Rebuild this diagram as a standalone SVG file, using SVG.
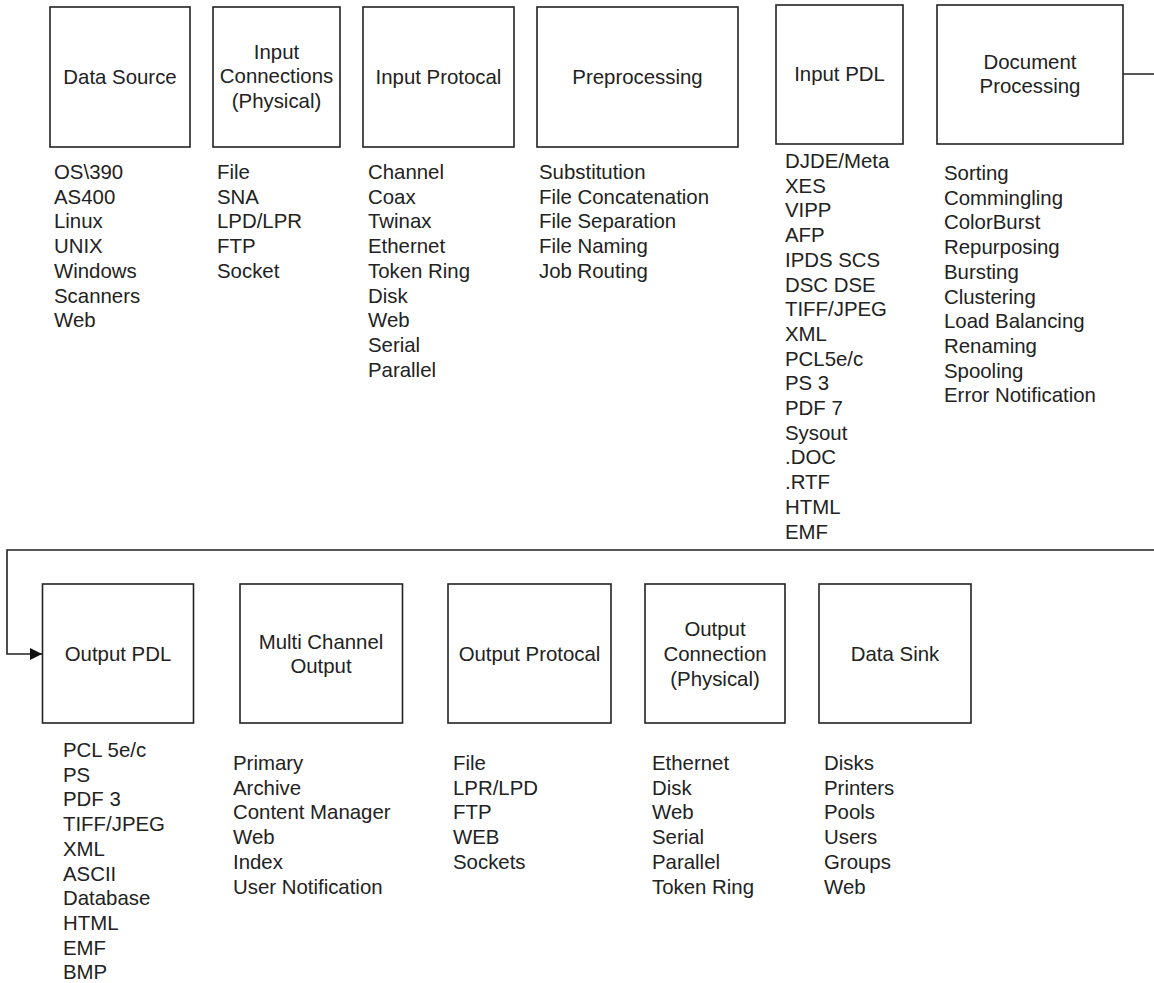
<svg xmlns="http://www.w3.org/2000/svg" width="1154" height="983" viewBox="0 0 1154 983">
<defs>
<style>
.box{fill:#fff;stroke:#222;stroke-width:1.6}
.t{font-family:"Liberation Sans",Arial,sans-serif;font-size:20.4px;fill:#222}
.c{text-anchor:middle}
.ln{fill:none;stroke:#222;stroke-width:1.6}
</style>
<marker id="arr" viewBox="0 0 10 10" refX="10" refY="5" markerWidth="14" markerHeight="12" markerUnits="userSpaceOnUse" orient="auto"><path d="M0,0 L10,5 L0,10 z" fill="#111"/></marker>
</defs>
<rect width="1154" height="983" fill="#fff"/>
<g id="connectors">
<path class="ln" d="M1123,74 H1157 V550 H7 V654 H42" marker-end="url(#arr)"/>
</g>
<g id="data-source">
<rect class="box" x="50" y="7" width="140" height="140"/>
<text class="t c" x="120" y="84">Data Source</text>
<text class="t" x="54" y="179"><tspan x="54">OS\390</tspan><tspan x="54" dy="24.7">AS400</tspan><tspan x="54" dy="24.7">Linux</tspan><tspan x="54" dy="24.7">UNIX</tspan><tspan x="54" dy="24.7">Windows</tspan><tspan x="54" dy="24.7">Scanners</tspan><tspan x="54" dy="24.7">Web</tspan></text>
</g>
<g id="input-connections">
<rect class="box" x="213" y="7" width="127" height="140"/>
<text class="t c" x="276.5" y="58.6"><tspan x="276.5">Input</tspan><tspan x="276.5" dy="24.7">Connections</tspan><tspan x="276.5" dy="24.7">(Physical)</tspan></text>
<text class="t" x="217" y="179"><tspan x="217">File</tspan><tspan x="217" dy="24.7">SNA</tspan><tspan x="217" dy="24.7">LPD/LPR</tspan><tspan x="217" dy="24.7">FTP</tspan><tspan x="217" dy="24.7">Socket</tspan></text>
</g>
<g id="input-protocal">
<rect class="box" x="363" y="7" width="151" height="140"/>
<text class="t c" x="438.5" y="84">Input Protocal</text>
<text class="t" x="368" y="179"><tspan x="368">Channel</tspan><tspan x="368" dy="24.7">Coax</tspan><tspan x="368" dy="24.7">Twinax</tspan><tspan x="368" dy="24.7">Ethernet</tspan><tspan x="368" dy="24.7">Token Ring</tspan><tspan x="368" dy="24.7">Disk</tspan><tspan x="368" dy="24.7">Web</tspan><tspan x="368" dy="24.7">Serial</tspan><tspan x="368" dy="24.7">Parallel</tspan></text>
</g>
<g id="preprocessing">
<rect class="box" x="537" y="7" width="201" height="140"/>
<text class="t c" x="637.5" y="84">Preprocessing</text>
<text class="t" x="539" y="179"><tspan x="539">Substitution</tspan><tspan x="539" dy="24.7">File Concatenation</tspan><tspan x="539" dy="24.7">File Separation</tspan><tspan x="539" dy="24.7">File Naming</tspan><tspan x="539" dy="24.7">Job Routing</tspan></text>
</g>
<g id="input-pdl">
<rect class="box" x="776" y="5" width="127" height="139"/>
<text class="t c" x="839.5" y="80.5">Input PDL</text>
<text class="t" x="785" y="168"><tspan x="785">DJDE/Meta</tspan><tspan x="785" dy="24.7">XES</tspan><tspan x="785" dy="24.7">VIPP</tspan><tspan x="785" dy="24.7">AFP</tspan><tspan x="785" dy="24.7">IPDS SCS</tspan><tspan x="785" dy="24.7">DSC DSE</tspan><tspan x="785" dy="24.7">TIFF/JPEG</tspan><tspan x="785" dy="24.7">XML</tspan><tspan x="785" dy="24.7">PCL5e/c</tspan><tspan x="785" dy="24.7">PS 3</tspan><tspan x="785" dy="24.7">PDF 7</tspan><tspan x="785" dy="24.7">Sysout</tspan><tspan x="785" dy="24.7">.DOC</tspan><tspan x="785" dy="24.7">.RTF</tspan><tspan x="785" dy="24.7">HTML</tspan><tspan x="785" dy="24.7">EMF</tspan></text>
</g>
<g id="document-processing">
<rect class="box" x="937" y="5" width="186" height="139"/>
<text class="t c" x="1030" y="68.5"><tspan x="1030">Document</tspan><tspan x="1030" dy="24.7">Processing</tspan></text>
<text class="t" x="944" y="180"><tspan x="944">Sorting</tspan><tspan x="944" dy="24.7">Commingling</tspan><tspan x="944" dy="24.7">ColorBurst</tspan><tspan x="944" dy="24.7">Repurposing</tspan><tspan x="944" dy="24.7">Bursting</tspan><tspan x="944" dy="24.7">Clustering</tspan><tspan x="944" dy="24.7">Load Balancing</tspan><tspan x="944" dy="24.7">Renaming</tspan><tspan x="944" dy="24.7">Spooling</tspan><tspan x="944" dy="24.7">Error Notification</tspan></text>
</g>
<g id="output-pdl">
<rect class="box" x="42.5" y="584" width="151" height="139"/>
<text class="t c" x="118" y="661">Output PDL</text>
<text class="t" x="63" y="757"><tspan x="63">PCL 5e/c</tspan><tspan x="63" dy="24.7">PS</tspan><tspan x="63" dy="24.7">PDF 3</tspan><tspan x="63" dy="24.7">TIFF/JPEG</tspan><tspan x="63" dy="24.7">XML</tspan><tspan x="63" dy="24.7">ASCII</tspan><tspan x="63" dy="24.7">Database</tspan><tspan x="63" dy="24.7">HTML</tspan><tspan x="63" dy="24.7">EMF</tspan><tspan x="63" dy="24.7">BMP</tspan></text>
</g>
<g id="multi-channel-output">
<rect class="box" x="240" y="584" width="162.5" height="139"/>
<text class="t c" x="321" y="648.5"><tspan x="321">Multi Channel</tspan><tspan x="321" dy="24.7">Output</tspan></text>
<text class="t" x="233" y="770"><tspan x="233">Primary</tspan><tspan x="233" dy="24.7">Archive</tspan><tspan x="233" dy="24.7">Content Manager</tspan><tspan x="233" dy="24.7">Web</tspan><tspan x="233" dy="24.7">Index</tspan><tspan x="233" dy="24.7">User Notification</tspan></text>
</g>
<g id="output-protocal">
<rect class="box" x="448" y="584" width="163" height="139"/>
<text class="t c" x="529.5" y="661">Output Protocal</text>
<text class="t" x="453" y="770"><tspan x="453">File</tspan><tspan x="453" dy="24.7">LPR/LPD</tspan><tspan x="453" dy="24.7">FTP</tspan><tspan x="453" dy="24.7">WEB</tspan><tspan x="453" dy="24.7">Sockets</tspan></text>
</g>
<g id="output-connection">
<rect class="box" x="645" y="584" width="140" height="139"/>
<text class="t c" x="715" y="636.3"><tspan x="715">Output</tspan><tspan x="715" dy="24.7">Connection</tspan><tspan x="715" dy="24.7">(Physical)</tspan></text>
<text class="t" x="652" y="770"><tspan x="652">Ethernet</tspan><tspan x="652" dy="24.7">Disk</tspan><tspan x="652" dy="24.7">Web</tspan><tspan x="652" dy="24.7">Serial</tspan><tspan x="652" dy="24.7">Parallel</tspan><tspan x="652" dy="24.7">Token Ring</tspan></text>
</g>
<g id="data-sink">
<rect class="box" x="819" y="584" width="152" height="139"/>
<text class="t c" x="895" y="661">Data Sink</text>
<text class="t" x="824" y="770"><tspan x="824">Disks</tspan><tspan x="824" dy="24.7">Printers</tspan><tspan x="824" dy="24.7">Pools</tspan><tspan x="824" dy="24.7">Users</tspan><tspan x="824" dy="24.7">Groups</tspan><tspan x="824" dy="24.7">Web</tspan></text>
</g>
</svg>
